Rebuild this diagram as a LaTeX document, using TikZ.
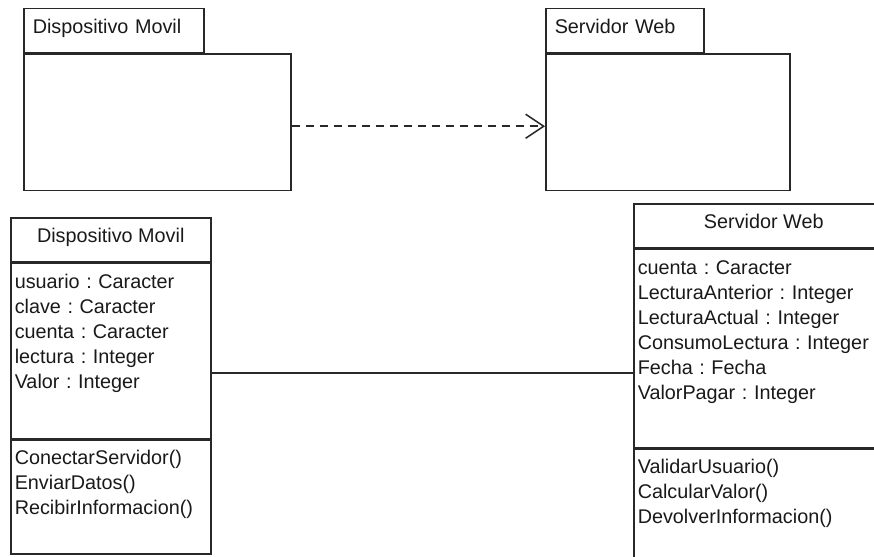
\documentclass[tikz,border=0pt]{standalone}
\usepackage{fontspec}
\setmainfont{Liberation Sans}
\frenchspacing
\usetikzlibrary{positioning,arrows.meta}
\definecolor{UmlInk}{RGB}{40,40,40}
\tikzset{
	uml/.style={draw=UmlInk,line width=1.5pt,text=black!90,font=\fontsize{19.8}{25}\selectfont},
	pkgtab/.style={uml,anchor=north west,text width=#1,align=left,inner xsep=9pt,inner ysep=0pt,
		text height=25pt,text depth=19pt},
	pkgbody/.style={uml,anchor=north west,minimum width=#1,minimum height=136pt,inner sep=0pt},
	classhead/.style={uml,anchor=north west,minimum width=#1,align=center,inner ysep=0pt,
		text height=25pt,text depth=19pt},
	members/.style 2 args={uml,anchor=north west,text width=#1,align=left,inner xsep=4pt,inner ysep=0pt,
		text height=25pt,text depth=#2},
	depend/.style={draw=UmlInk,line width=1.5pt,dash pattern=on 8pt off 6pt,
		-{Straight Barb[length=18pt,width=24pt,line width=1.5pt]}},
	assoc/.style={draw=UmlInk,line width=1.5pt},
}

\begin{document}
\begin{tikzpicture}[x=1pt,y=-1pt]
	\useasboundingbox (0,0) rectangle (874,556);
	\clip (0,0) rectangle (874,556);
	% packages
	\node[pkgtab=162pt] (dmTab) at (23,8) {Dispositivo Movil};
	\node[pkgbody=267pt] (dmPkg) at (dmTab.south west) {};
	\node[pkgtab=140pt] (swTab) at (545,8) {Servidor Web};
	\node[pkgbody=244pt] (swPkg) at (swTab.south west) {};
	\draw[depend] ([yshift=-4pt]dmPkg.east) -- ([yshift=-4pt]swPkg.west);
	% class Dispositivo Movil
	\node[classhead=200pt] (dmHead) at (10,217) {Dispositivo Movil};
	\node[members={192pt}{150pt}] (dmAttr) at (dmHead.south west)
		{usuario : Caracter\\clave : Caracter\\cuenta : Caracter\\lectura : Integer\\Valor : Integer};
	\node[members={192pt}{89pt}] (dmOps) at (dmAttr.south west)
		{ConectarServidor()\\EnviarDatos()\\RecibirInformacion()};
	% class Servidor Web
	\node[classhead=260pt] (swHead) at (633,203) {Servidor Web};
	\node[members={252pt}{173pt}] (swAttr) at (swHead.south west)
		{cuenta : Caracter\\LecturaAnterior : Integer\\LecturaActual : Integer\\ConsumoLectura : Integer\\Fecha : Fecha\\ValorPagar : Integer};
	\node[members={252pt}{91pt}] (swOps) at (swAttr.south west)
		{ValidarUsuario()\\CalcularValor()\\DevolverInformacion()};
	% association
	\coordinate (link) at (0,373);
	\draw[assoc] (dmHead.east |- link) -- (swHead.west |- link);
\end{tikzpicture}
\end{document}
